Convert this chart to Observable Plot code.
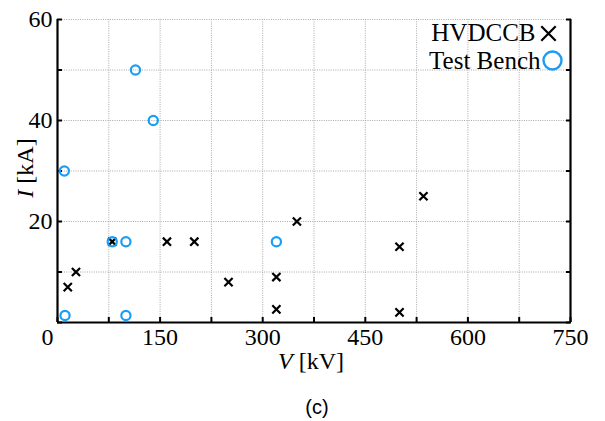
<!DOCTYPE html>
<html>
<head>
<meta charset="utf-8">
<script src="https://cdn.jsdelivr.net/npm/d3@7"></script>
<script src="https://cdn.jsdelivr.net/npm/@observablehq/plot@0.6"></script>
<style>
  html, body { margin: 0; padding: 0; background: #fff; }
  #chart { width: 605px; }
  #chart svg, #chart svg text { font-family: "Liberation Serif", "DejaVu Serif", serif !important; }
  #caption { width: 576px; margin-left: 29px; height: 41px; line-height: 54px; text-align: center;
    font-family: "Liberation Sans", Arial, sans-serif; font-size: 20px; color: #000; }
</style>
</head>
<body>
<div id="chart"></div>
<div id="caption">(c)</div>
<script>
// Data
const hvdccbV = [15, 27, 80, 160, 200, 250, 320, 320, 350, 500, 500, 535];
const hvdccbI = [7, 10, 16, 16, 16, 8, 9, 2.6, 20, 15, 2, 25];
const benchV = [10, 11, 80, 100, 100, 114, 140, 320];
const benchI = [30, 1.4, 16, 16, 1.4, 50, 40, 16];

const xTicks = [0, 75, 150, 225, 300, 375, 450, 525, 600, 675, 750];
const xTickLabels = [150, 300, 450, 600, 750];
const yTicks = [0, 10, 20, 30, 40, 50, 60];
const yTickLabels = [20, 40, 60];
const legendLabels = ["HVDCCB", "Test Bench"];
const xTitle = ["V", " [kV]"];
const yTitle = ["I", " [kA]"];

const hv = hvdccbV.map((v, i) => ({V: v, I: hvdccbI[i]}));
const tb = benchV.map((v, i) => ({V: v, I: benchI[i]}));

const blue = "#1a9ef5";
const grid = {stroke: "#a8a8a8", strokeOpacity: 1, strokeWidth: 1, strokeDasharray: "1,1.3"};

const chart = Plot.plot({
  width: 605,
  height: 380,
  marginLeft: 57,
  marginRight: 35,
  marginTop: 19,
  marginBottom: 58,
  x: {domain: [0, 750]},
  y: {domain: [0, 60]},
  style: {background: "#fff", color: "#000"},
  marks: [
    Plot.gridX(xTicks, grid),
    Plot.gridY(yTicks, grid),
    Plot.ruleY([0], {stroke: "#000", strokeWidth: 2.2}),
    Plot.ruleX([0], {stroke: "#000", strokeWidth: 2.2}),
    Plot.ruleX([750], {stroke: "#000", strokeWidth: 2.2}),
    Plot.axisX(xTicks, {anchor: "bottom", tickSize: -5, strokeWidth: 2, text: null, label: null}),
    Plot.axisY(yTicks, {anchor: "left", tickSize: -5, strokeWidth: 2, text: null, label: null}),
    Plot.axisY(yTicks, {anchor: "right", tickSize: -5, strokeWidth: 2, text: null, label: null}),
    Plot.axisX(xTickLabels, {anchor: "bottom", tickSize: 0, tickPadding: 5, fontSize: 24, fontVariant: "normal", label: null}),
    Plot.axisY(yTickLabels, {anchor: "left", tickSize: 0, tickPadding: 5, fontSize: 24, fontVariant: "normal", label: null}),
    Plot.text([0], {x: 0, y: 0, text: d => String(d), dx: -10, dy: 15, fontSize: 24, lineAnchor: "middle"}),
    Plot.text([xTitle.join("")], {frameAnchor: "bottom", textAnchor: "middle", dx: -3, dy: 39, fontSize: 24, lineAnchor: "middle"}),
    Plot.text([yTitle.join("")], {frameAnchor: "left", textAnchor: "middle", dx: -32, dy: -3, rotate: -90, fontSize: 24, lineAnchor: "middle"}),
    Plot.dot(hv, {x: "V", y: "I", symbol: "times", r: 3.8, stroke: "#000", strokeWidth: 2.2}),
    Plot.dot(tb, {x: "V", y: "I", symbol: "circle", r: 4.6, stroke: blue, strokeWidth: 2.2, fill: "none"}),
    Plot.text([legendLabels[0]], {frameAnchor: "top-right", dx: -35, dy: 13, textAnchor: "end", lineAnchor: "middle", fontSize: 25}),
    Plot.text([legendLabels[1]], {frameAnchor: "top-right", dx: -30, dy: 41, textAnchor: "end", lineAnchor: "middle", fontSize: 25}),
    Plot.dot([legendLabels[0]], {frameAnchor: "top-right", dx: -22, dy: 14, symbol: "times", r: 6.6, stroke: "#000", strokeWidth: 2.2}),
    Plot.dot([legendLabels[1]], {frameAnchor: "top-right", dx: -18, dy: 41, symbol: "circle", r: 9, stroke: blue, strokeWidth: 2.4, fill: "none"})
  ]
});

// italicize the variable symbol in the axis titles
d3.select(chart).selectAll("text").each(function() {
  const t = this.textContent;
  for (const parts of [xTitle, yTitle]) {
    if (t === parts.join("")) {
      const sel = d3.select(this);
      sel.text(null);
      sel.append("tspan").attr("font-style", "italic").text(parts[0]);
      sel.append("tspan").style("white-space", "pre").text(parts[1]);
    }
  }
});

document.getElementById("chart").appendChild(chart);
</script>
</body>
</html>
